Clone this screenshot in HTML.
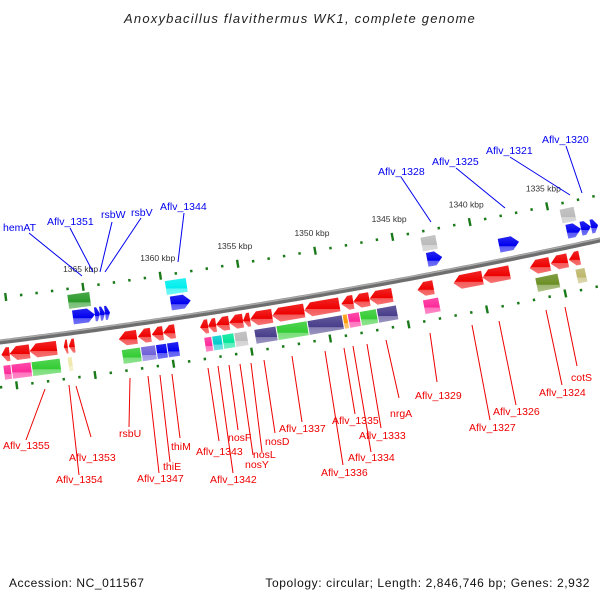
<!DOCTYPE html>
<html><head><meta charset="utf-8"><style>
html,body{margin:0;padding:0;background:#fff;}
svg{display:block;font-family:"Liberation Sans",sans-serif;}
</style></head><body>
<svg id="map" width="600" height="600" viewBox="0 0 600 600">
<defs id="defs"></defs>
<text x="300" y="23" text-anchor="middle" font-size="13" letter-spacing="1.2" font-style="italic" fill="#222">Anoxybacillus flavithermus WK1, complete genome</text>
<g id="ticks"></g>
<g id="backbone"></g>
<g id="genes"></g>
<g id="labels"></g>
<text x="9" y="587" font-size="12" letter-spacing="0.55" fill="#111">Accession: NC_011567</text>
<text x="590" y="587" text-anchor="end" font-size="12" letter-spacing="0.6" fill="#111">Topology: circular; Length: 2,846,746 bp; Genes: 2,932</text>
</svg>
<script>
// ---- data ----
const tickKbpStart = 1371;
const tickKbpEnd = 1332;
const majorTickLabels = [1365, 1360, 1355, 1350, 1345, 1340, 1335];
// forward genes (above backbone): start kbp, end kbp
const fwdStart = [1365.90, 1364.49, 1364.16, 1363.84, 1359.60, 1343.10, 1338.47, 1334.11, 1333.20, 1332.56];
const fwdEnd   = [1364.49, 1364.16, 1363.84, 1363.52, 1358.32, 1342.13, 1337.19, 1333.20, 1332.56, 1332.10];
// reverse genes (below backbone)
const revStart = [1370.72,1370.20,1368.92,1366.73,1366.41,1363.20,1361.98,1361.08,1360.37,1357.99,1357.48,1356.97,1356.13,1355.24,1354.79,1353.37,1351.32,1348.94,1348.17,1347.14,1344.06,1341.75,1339.89,1336.87,1335.52,1334.36];
const revEnd   = [1370.20,1368.92,1367.18,1366.48,1366.03,1362.04,1361.15,1360.37,1359.60,1357.48,1356.97,1356.13,1355.24,1354.79,1353.37,1351.32,1349.07,1348.17,1347.14,1345.67,1343.03,1339.89,1338.15,1335.58,1334.43,1333.66];
// COG boxes above
const cogUpStart = [1366.10, 1359.80, 1343.29, 1334.30];
const cogUpEnd   = [1364.62, 1358.39, 1342.27, 1333.34];
const cogUpColor = ["#2a9a2a", "#00eeee", "#bbbbbb", "#bbbbbb"];
// COG boxes below
const cogDnStart = [1370.72,1370.21,1368.92,1366.61,1363.14,1361.92,1360.96,1360.25,1357.87,1357.36,1356.72,1355.95,1354.66,1353.25,1351.26,1349.01,1348.69,1347.92,1346.83,1343.87,1336.68,1334.11];
const cogDnEnd   = [1370.21,1368.92,1367.06,1366.29,1361.92,1360.96,1360.25,1359.48,1357.36,1356.72,1355.95,1355.11,1353.25,1351.26,1349.01,1348.69,1347.92,1346.83,1345.54,1342.84,1335.20,1333.47];
const cogDnColor = ["#ff2a9a","#ff2a9a","#33cc33","#eee8aa","#33cc33","#7060d8","#0000ee","#0000ee","#ff2a9a","#00cccc","#00e699","#bbbbbb","#473d8b","#33cc33","#473d8b","#ff9900","#ff2a9a","#33cc33","#473d8b","#ff2a9a","#6b8e23","#bdb76b"];
// labels: name, line start, line end, text pos
const topNames = ["hemAT","Aflv_1351","rsbW","rsbV","Aflv_1344","Aflv_1328","Aflv_1325","Aflv_1321","Aflv_1320"];
const topLines = [[82,276,29,233],[93,272,70,228],[100,272,112,222],[105,272,141,218],[178,262,184,213],[431,222,401,177],[505,208,456,168],[570,195,510,157],[582,193,566,146]];
const topText  = [[3,231],[47,225],[101,218],[131,216],[160,210],[378,175],[432,165],[486,154],[542,143]];
const botNames = ["Aflv_1355","Aflv_1354","Aflv_1353","rsbU","Aflv_1347","thiE","thiM","Aflv_1343","Aflv_1342","nosF","nosY","nosL","nosD","Aflv_1337","Aflv_1336","Aflv_1335","Aflv_1334","Aflv_1333","nrgA","Aflv_1329","Aflv_1327","Aflv_1326","Aflv_1324","cotS"];
const botLines = [[45,389,26,440],[69,385,79,475],[76,386,91,437],[130,378,129,427],[148,376,159,473],[160,375,170,462],[172,374,180,438],[208,368,219,441],[218,366,233,473],[229,365,238,430],[240,364,253,455],[251,363,262,452],[264,360,275,433],[292,356,302,422],[325,351,343,465],[344,348,355,414],[353,346,371,452],[367,344,381,428],[386,340,399,398],[430,333,437,382],[472,325,490,420],[499,321,516,405],[546,310,562,385],[565,307,577,366]];
const botText  = [[3,449],[56,483],[69,461],[119,437],[137,482],[163,470],[171,450],[196,455],[210,483],[228,441],[245,468],[253,458],[265,445],[279,432],[321,476],[332,424],[348,461],[359,439],[390,417],[415,399],[469,431],[493,415],[539,396],[571,381]];

// ---- geometry ----
const NS = "http://www.w3.org/2000/svg";
function X(kbp){ return 89 + (1365 - kbp) * 15.57; }
function Y(x){ return 342 - 0.1233 * x - 0.0000778 * x * x; }
function S(x){ return -0.1233 - 0.0001556 * x; }
function P(x, off){ const s = S(x), L = Math.sqrt(1 + s * s); return [x + off * (-s) / L, Y(x) + off / L]; }
function mk(tag, attrs, parent){ const e = document.createElementNS(NS, tag); for (const k in attrs) e.setAttribute(k, attrs[k]); parent.appendChild(e); return e; }
const defs = document.getElementById('defs');
const grads = {};
function lighten(c, f){ const n = parseInt(c.slice(1), 16); let r = n >> 16, g = (n >> 8) & 255, b = n & 255; r = Math.round(r + (255 - r) * f); g = Math.round(g + (255 - g) * f); b = Math.round(b + (255 - b) * f); return "rgb(" + r + "," + g + "," + b + ")"; }
function grad(c){ if (grads[c]) return grads[c]; const id = "g" + Object.keys(grads).length; const lg = mk('linearGradient', {id: id, x1: 0, y1: 0, x2: 0, y2: 1}, defs); mk('stop', {offset: 0, 'stop-color': lighten(c, 0.15)}, lg); mk('stop', {offset: 0.6, 'stop-color': c}, lg); mk('stop', {offset: 0.62, 'stop-color': lighten(c, 0.35)}, lg); mk('stop', {offset: 1, 'stop-color': lighten(c, 0.45)}, lg); grads[c] = "url(#" + id + ")"; return grads[c]; }
function pts(a){ return a.map(p => p[0].toFixed(1) + "," + p[1].toFixed(1)).join(" "); }

// ticks
const tg = document.getElementById('ticks');
for (let k = tickKbpStart; k >= tickKbpEnd; k--) {
  const x = X(k);
  if (x < -5 || x > 605) continue;
  const major = k % 5 === 0;
  [-44, 45].forEach(off => {
    const len = major ? 4 : 1.3;
    const a = P(x, off - len), b = P(x, off + len);
    const t = mk('line', {x1: a[0], y1: a[1], x2: b[0], y2: b[1], stroke: '#1a7a1a', 'stroke-width': 2.4}, tg);
    
    
  });
}
majorTickLabels.forEach(k => {
  const p = P(X(k), -62);
  const t = mk('text', {x: p[0], y: p[1] + 3, 'text-anchor': 'middle', 'font-size': 8.5, fill: '#333'}, tg);
  t.textContent = k + " kbp";
  
  
});

// backbone
const bg = document.getElementById('backbone');
let d = "";
for (let x = -5; x <= 605; x += 5) d += (x === -5 ? "M" : "L") + x + "," + Y(x).toFixed(1);
const bb1 = mk('path', {d: d, stroke: '#6e6e6e', 'stroke-width': 5, fill: 'none'}, bg);


const bb2 = mk('path', {d: d, stroke: '#aaaaaa', 'stroke-width': 1.5, fill: 'none', transform: 'translate(0,-1.5)'}, bg);



// genes
const gg = document.getElementById('genes');
function arrow(k1, k2, off, h, color, dir){
  const xs = X(k1), xe = X(k2);
  const len = xe - xs, head = Math.min(7, len * 0.6);
  let poly;
  if (dir > 0) poly = [P(xs, off - h/2), P(xe - head, off - h/2), P(xe, off), P(xe - head, off + h/2), P(xs, off + h/2)];
  else poly = [P(xe, off - h/2), P(xs + head, off - h/2), P(xs, off), P(xs + head, off + h/2), P(xe, off + h/2)];
  return mk('polygon', {points: pts(poly), fill: grad(color)}, gg);
}
function box(k1, k2, off, h, color){
  const xs = X(k1), xe = X(k2);
  const poly = [P(xs + 0.5, off - h/2), P(xe - 0.5, off - h/2), P(xe - 0.5, off + h/2), P(xs + 0.5, off + h/2)];
  return mk('polygon', {points: pts(poly), fill: grad(color)}, gg);
}
for (let i = 0; i < fwdStart.length; i++) {
  const e = arrow(fwdStart[i], fwdEnd[i], -15, 14, '#0000ee', 1);
  
  
}
for (let i = 0; i < revStart.length; i++) {
  const e = arrow(revStart[i], revEnd[i], 13, 14, '#ee0000', -1);
  
  
}
for (let i = 0; i < cogUpStart.length; i++) {
  const e = box(cogUpStart[i], cogUpEnd[i], -31, 14, cogUpColor[i]);
  
  
}
for (let i = 0; i < cogDnStart.length; i++) {
  const e = box(cogDnStart[i], cogDnEnd[i], 31, 14, cogDnColor[i]);
  
  
}

// labels
const lg = document.getElementById('labels');
function addLabels(names, lines, texts, color){
  for (let i = 0; i < names.length; i++) {
    const l = lines[i];
    const ln = mk('line', {x1: l[0], y1: l[1], x2: l[2], y2: l[3], stroke: color, 'stroke-width': 1}, lg);
    
    
    const t = mk('text', {x: texts[i][0], y: texts[i][1], 'font-size': 10.5, fill: color}, lg);
    t.textContent = names[i];
    
    
  }
}
addLabels(topNames, topLines, topText, '#0000ee');
addLabels(botNames, botLines, botText, '#ee0000');
</script>
</body></html>
